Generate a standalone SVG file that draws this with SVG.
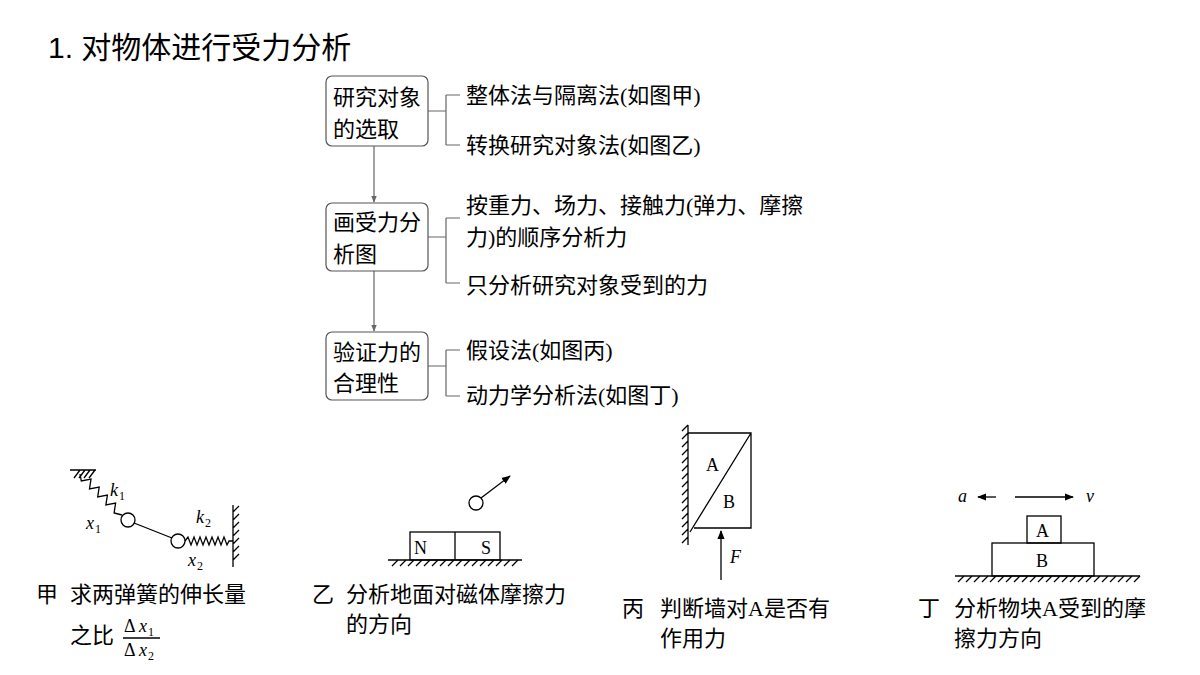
<svg xmlns="http://www.w3.org/2000/svg" width="1200" height="675" viewBox="0 0 1200 675">
<style>
.t{font-family:"Liberation Serif","Noto Sans CJK SC",serif;font-size:22px;fill:#000}
.m{font-family:"Liberation Serif",serif;font-size:18px;font-style:italic;fill:#000}
.s{font-family:"Liberation Serif",serif;font-size:12px;fill:#000}
.l{stroke:#000;stroke-width:1.3;fill:none}
.g{stroke:#666;stroke-width:1.2;fill:none}
.b{fill:#fff;stroke:#555;stroke-width:1.2}
</style>
<defs>
<marker id="ar" viewBox="0 0 10 10" refX="9" refY="5" markerWidth="7" markerHeight="7" orient="auto"><path d="M0,1 L10,5 L0,9 Z" fill="#000"/></marker>
<marker id="ag" viewBox="0 0 10 10" refX="9" refY="5" markerWidth="6" markerHeight="6" orient="auto"><path d="M0,1 L10,5 L0,9 Z" fill="#666"/></marker>
</defs>
<rect width="1200" height="675" fill="#fff"/>
<text x="48" y="58" style="font-family:'Liberation Sans','Noto Sans CJK SC',sans-serif;font-size:30px">1. 对物体进行受力分析</text>
<g id="connectors">
<path class="g" d="M374,146 V202" marker-end="url(#ag)"/>
<path class="g" d="M374,271 V331" marker-end="url(#ag)"/>
<path class="g" d="M428,111 H446 M446,95 V145 M446,95 H460 M446,145 H460"/>
<path class="g" d="M428,237 H446 M446,218 V283 M446,218 H460 M446,283 H460"/>
<path class="g" d="M428,366 H446 M446,350 V396 M446,350 H460 M446,396 H460"/>
</g>
<g id="n1"><rect class="b" x="326" y="76" width="102" height="70" rx="6"/><text class="t" x="333" y="105">研究对象</text><text class="t" x="333" y="137">的选取</text></g>
<g id="n2"><rect class="b" x="326" y="203" width="102" height="68" rx="6"/><text class="t" x="333" y="230">画受力分</text><text class="t" x="333" y="262">析图</text></g>
<g id="n3"><rect class="b" x="326" y="332" width="102" height="68" rx="6"/><text class="t" x="333" y="360">验证力的</text><text class="t" x="333" y="391">合理性</text></g>
<g id="labels">
<text class="t" x="466" y="103">整体法与隔离法(如图甲)</text>
<text class="t" x="466" y="153">转换研究对象法(如图乙)</text>
<text class="t" x="466" y="213">按重力、场力、接触力(弹力、摩擦</text>
<text class="t" x="466" y="245">力)的顺序分析力</text>
<text class="t" x="466" y="293">只分析研究对象受到的力</text>
<text class="t" x="466" y="358">假设法(如图丙)</text>
<text class="t" x="466" y="403">动力学分析法(如图丁)</text>
</g>
<g id="jia">
<path class="l" d="M70,470 H96 M74,478 L80,470 M79,478 L85,470 M84,478 L90,470 M89,478 L95,470"/>
<path class="l" d="M80,474 L81.3,480.9 L91,479.1 L89.5,488.9 L99.2,487.1 L97.7,496.9 L107.4,495.1 L105.9,504.9 L115.6,503.1 L114.1,512.9 L122,515"/>
<circle class="l" cx="128" cy="520" r="7"/>
<line class="l" x1="134" y1="523" x2="172" y2="538"/>
<circle class="l" cx="178" cy="541" r="7"/>
<path class="l" d="M185,541 l3,-4 l3,8 l3,-8 l3,8 l3,-8 l3,8 l3,-8 l3,8 l3,-8 l3,8 l3,-8 l3,8 l3,-8 l3,8 l2,-4 h4"/>
<path class="l" d="M233,505 V567 M233,512 l6,-6 M233,520 l6,-6 M233,528 l6,-6 M233,536 l6,-6 M233,544 l6,-6 M233,552 l6,-6 M233,560 l6,-6"/>
<text class="m" x="110" y="496">k</text><text class="s" x="119" y="500">1</text>
<text class="m" x="86" y="529">x</text><text class="s" x="95" y="533">1</text>
<text class="m" x="196" y="523">k</text><text class="s" x="205" y="527">2</text>
<text class="m" x="188" y="566">x</text><text class="s" x="197" y="570">2</text>
<text class="t" x="36" y="602">甲</text><text class="t" x="70" y="602">求两弹簧的伸长量</text>
<text class="t" x="70" y="643">之比</text>
<text class="m" x="124" y="632" style="font-style:normal">Δ</text><text class="m" x="139" y="632">x</text><text class="s" x="148" y="636">1</text>
<line class="l" x1="123" y1="638" x2="160" y2="638"/>
<text class="m" x="124" y="656" style="font-style:normal">Δ</text><text class="m" x="139" y="656">x</text><text class="s" x="148" y="660">2</text>
</g>
<g id="yi">
<line class="l" x1="388" y1="560" x2="522" y2="560"/>
<path class="l" d="M392,566 l6,-6 M400,566 l6,-6 M408,566 l6,-6 M416,566 l6,-6 M424,566 l6,-6 M432,566 l6,-6 M440,566 l6,-6 M448,566 l6,-6 M456,566 l6,-6 M464,566 l6,-6 M472,566 l6,-6 M480,566 l6,-6 M488,566 l6,-6 M496,566 l6,-6 M504,566 l6,-6 M512,566 l6,-6"/>
<rect class="l" x="410" y="532" width="90" height="28"/>
<line class="l" x1="455" y1="532" x2="455" y2="560"/>
<text class="t" x="414" y="554" style="font-size:18px">N</text>
<text class="t" x="481" y="554" style="font-size:18px">S</text>
<circle class="l" cx="476" cy="503" r="7"/>
<line class="l" x1="481" y1="498" x2="510" y2="476" marker-end="url(#ar)"/>
<text class="t" x="312" y="602">乙</text><text class="t" x="346" y="602">分析地面对磁体摩擦力</text>
<text class="t" x="346" y="632">的方向</text>
</g>
<g id="bing">
<path class="l" d="M688,425 V545 M682,431 l6,-6 M682,439 l6,-6 M682,447 l6,-6 M682,455 l6,-6 M682,463 l6,-6 M682,471 l6,-6 M682,479 l6,-6 M682,487 l6,-6 M682,495 l6,-6 M682,503 l6,-6 M682,511 l6,-6 M682,519 l6,-6 M682,527 l6,-6 M682,535 l6,-6 M682,543 l6,-6"/>
<path class="l" d="M688,433 H751 V528 H694 M751,433 L690,532"/>
<text class="t" x="706" y="471" style="font-size:18px">A</text>
<text class="t" x="723" y="508" style="font-size:18px">B</text>
<line class="l" x1="721" y1="580" x2="721" y2="531" marker-end="url(#ar)"/>
<text class="m" x="730" y="563">F</text>
<text class="t" x="622" y="616">丙</text><text class="t" x="660" y="616">判断墙对A是否有</text>
<text class="t" x="660" y="646">作用力</text>
</g>
<g id="ding">
<line class="l" x1="955" y1="576" x2="1140" y2="576"/>
<path class="l" d="M958,582 l6,-6 M966,582 l6,-6 M974,582 l6,-6 M982,582 l6,-6 M990,582 l6,-6 M998,582 l6,-6 M1006,582 l6,-6 M1014,582 l6,-6 M1022,582 l6,-6 M1030,582 l6,-6 M1038,582 l6,-6 M1046,582 l6,-6 M1054,582 l6,-6 M1062,582 l6,-6 M1070,582 l6,-6 M1078,582 l6,-6 M1086,582 l6,-6 M1094,582 l6,-6 M1102,582 l6,-6 M1110,582 l6,-6 M1118,582 l6,-6 M1126,582 l6,-6 M1134,582 l6,-6"/>
<rect class="l" x="992" y="543" width="102" height="33"/>
<rect class="l" x="1027" y="516" width="34" height="27"/>
<text class="t" x="1036" y="537" style="font-size:18px">A</text>
<text class="t" x="1036" y="567" style="font-size:18px">B</text>
<text class="m" x="958" y="502">a</text>
<line class="l" x1="996" y1="497" x2="978" y2="497" marker-end="url(#ar)"/>
<line class="l" x1="1015" y1="497" x2="1073" y2="497" marker-end="url(#ar)"/>
<text class="m" x="1086" y="502">v</text>
<text class="t" x="918" y="616">丁</text><text class="t" x="954" y="616">分析物块A受到的摩</text>
<text class="t" x="954" y="646">擦力方向</text>
</g>
</svg>
